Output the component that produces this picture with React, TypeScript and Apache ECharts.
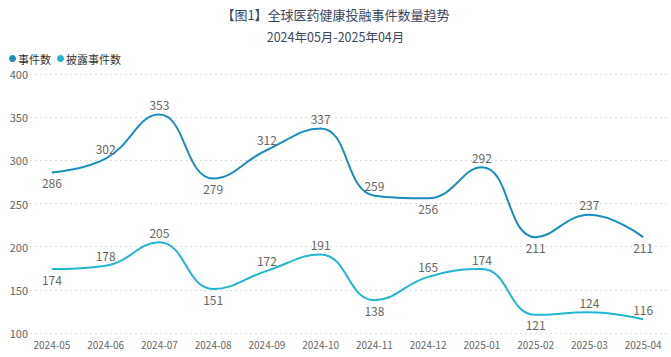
import React, { useEffect, useRef } from "react";
import * as echarts from "echarts";

const categories = ["2024-05","2024-06","2024-07","2024-08","2024-09","2024-10","2024-11","2024-12","2025-01","2025-02","2025-03","2025-04"];
const events = [286, 302, 353, 279, 312, 337, 259, 256, 292, 211, 237, 211];
const disclosed = [174, 178, 205, 151, 172, 191, 138, 165, 174, 121, 124, 116];
const eventsLabelPos = ["bottom","top","top","bottom","top","top","top","bottom","top","bottom","top","bottom"];
const disclosedLabelPos = ["bottom","top","top","bottom","top","top","bottom","top","top","bottom","top","top"];

export default function App() {
  const ref = useRef<HTMLDivElement>(null);
  useEffect(() => {
    const chart = echarts.init(ref.current!, null, { renderer: "svg" });
    const font = "'Noto Sans CJK SC', 'Noto Sans', sans-serif";
    const mk = (vals: number[], pos: string[]) =>
      vals.map((v, i) => ({ value: v, label: { position: pos[i] } }));
    chart.setOption({
      animation: false,
      backgroundColor: "#ffffff",
      textStyle: { fontFamily: font },
      title: {
        text: "【图1】全球医药健康投融事件数量趋势",
        subtext: "2024年05月-2025年04月",
        left: "center",
        top: 3,
        itemGap: 9,
        textStyle: { fontSize: 13, fontWeight: "normal", color: "#3b4660", fontFamily: font },
        subtextStyle: { fontSize: 12.5, color: "#3b4660", fontFamily: font },
      },
      legend: {
        left: 4,
        top: 48,
        icon: "circle",
        itemWidth: 7,
        itemHeight: 7,
        itemGap: 6,
        textStyle: { fontSize: 11, color: "#333", fontFamily: font, padding: [0, 0, 0, -3] },
        data: ["事件数", "披露事件数"],
      },
      grid: { left: 25, right: 1, top: 74, bottom: 24 },
      xAxis: {
        type: "category",
        data: categories,
        boundaryGap: true,
        axisLine: { show: false },
        axisTick: { show: false },
        axisLabel: { fontSize: 10, color: "#666", margin: 6, interval: 0 },
      },
      yAxis: {
        type: "value",
        min: 100,
        max: 400,
        interval: 50,
        axisLine: { show: false },
        axisTick: { show: false },
        axisLabel: { fontSize: 11, color: "#666", margin: -3 },
        splitLine: { lineStyle: { type: [2, 3], color: "#dddddd" } },
      },
      series: [
        {
          name: "事件数",
          type: "line",
          smooth: 0.45,
          showSymbol: true,
          symbol: "circle",
          symbolSize: 0.1,
          color: "#1a8cbf",
          lineStyle: { width: 2, color: "#1a8cbf" },
          label: { show: true, fontSize: 12, color: "#666", distance: 4 },
          data: mk(events, eventsLabelPos),
        },
        {
          name: "披露事件数",
          type: "line",
          smooth: 0.45,
          showSymbol: true,
          symbol: "circle",
          symbolSize: 0.1,
          color: "#20b6d2",
          lineStyle: { width: 2, color: "#20b6d2" },
          label: { show: true, fontSize: 12, color: "#666", distance: 4 },
          data: mk(disclosed, disclosedLabelPos),
        },
      ],
    });
    return () => chart.dispose();
  }, []);
  return <div ref={ref} style={{ width: 671, height: 357, position: "absolute", left: 0, top: 0 }} />;
}
